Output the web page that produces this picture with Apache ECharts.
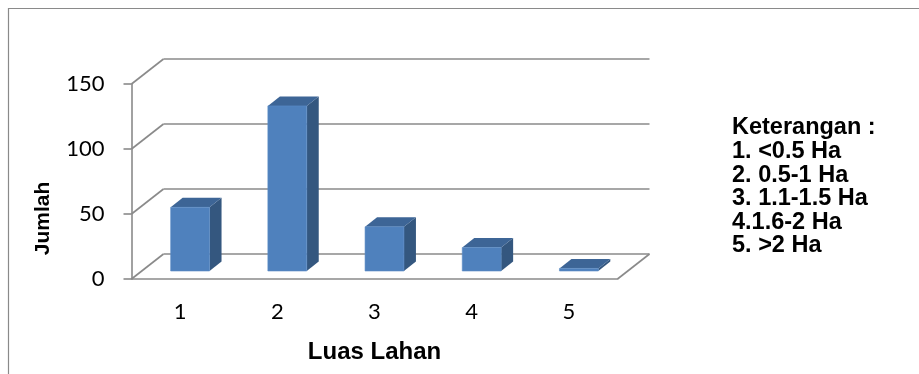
<!DOCTYPE html>
<html>
<head>
<meta charset="utf-8">
<script src="https://cdn.jsdelivr.net/npm/echarts@6/dist/echarts.min.js"></script>
<style>html,body{margin:0;padding:0;background:#fff;}#c{width:919px;height:374px;}</style>
</head>
<body>
<div id="c"></div>
<script>
const categories = ['1', '2', '3', '4', '5'];
const values = [49, 127, 34, 18, 2];
const yTicks = [0, 50, 100, 150];
const legendTitle = 'Keterangan :';
const legendLines = ['1. <0.5 Ha', '2. 0.5-1 Ha', '3. 1.1-1.5 Ha', '4.1.6-2 Ha', '5. >2 Ha'];
const xName = 'Luas Lahan';
const yName = 'Jumlah';

const GRAY = '#8a8a8a';
const FRONT = '#4F81BD', TOP = '#3D6596', SIDE = '#34577F';
const BDX = 32, BDY = -25;      // depth of the whole box
const FDX = 10, FDY = -8;       // bar front face position in depth
const DDX = 12, DDY = -9.5;     // bar depth
const BAR_RATIO = 0.4;

function renderBar(params, api) {
  const i = api.value(0), v = api.value(1);
  const top = api.coord([i, v]), base = api.coord([i, 0]);
  const w = api.size([1, 0])[0] * BAR_RATIO;
  const x0 = top[0] - w / 2 + FDX, x1 = x0 + w;
  const yT = top[1] + FDY, yB = base[1] + FDY;
  return {
    type: 'group',
    children: [
      { type: 'polygon', shape: { points: [[x1, yB], [x1, yT], [x1 + DDX, yT + DDY], [x1 + DDX, yB + DDY]] }, style: { fill: SIDE } },
      { type: 'polygon', shape: { points: [[x0, yT], [x1, yT], [x1 + DDX, yT + DDY], [x0 + DDX, yT + DDY]] }, style: { fill: TOP } },
      { type: 'rect', shape: { x: x0, y: yT, width: w, height: yB - yT }, style: { fill: FRONT, stroke: '#5a8cc6', lineWidth: 0.6 } }
    ]
  };
}

function renderWall(params, api) {
  const v = api.value(1);
  const cs = params.coordSys;
  const y = api.coord([0, v])[1];
  const xl = cs.x, xr = cs.x + cs.width;
  const ls = { stroke: GRAY, lineWidth: 1.6 };
  const ch = [
    { type: 'line', shape: { x1: xl, y1: y, x2: xl + BDX, y2: y + BDY }, style: ls },
    { type: 'line', shape: { x1: xl + BDX, y1: y + BDY, x2: xr + BDX, y2: y + BDY }, style: ls }
  ];
  if (v === 0) {
    ch.push({ type: 'line', shape: { x1: xr, y1: y, x2: xr + BDX, y2: y + BDY }, style: ls });
  }
  return { type: 'group', children: ch };
}

const chart = echarts.init(document.getElementById('c'));
chart.setOption({
  animation: false,
  backgroundColor: '#fff',
  grid: { left: 131.5, top: 84, width: 486, height: 195 },
  xAxis: {
    type: 'category',
    data: categories,
    axisLine: { show: true, lineStyle: { color: GRAY, width: 1.6 } },
    axisTick: { show: false },
    axisLabel: { fontSize: 22, color: '#000', fontFamily: 'Lato', margin: 22 },
    name: xName,
    nameLocation: 'middle',
    nameGap: 61,
    nameTextStyle: { fontSize: 24, fontWeight: 'bold', color: '#000', fontFamily: 'Liberation Sans' },
    splitLine: { show: false }
  },
  yAxis: {
    type: 'value',
    min: 0, max: 150, interval: 50,
    axisLine: { show: true, lineStyle: { color: GRAY, width: 1.6 } },
    axisTick: { show: true, length: 8, lineStyle: { color: GRAY, width: 1.6 } },
    axisLabel: { fontSize: 22, color: '#000', fontFamily: 'Lato', margin: 27 },
    splitLine: { show: false },
    name: yName,
    nameLocation: 'middle',
    nameRotate: 90,
    nameGap: 78,
    nameTextStyle: { fontSize: 21, fontWeight: 'bold', color: '#000', fontFamily: 'Liberation Sans', padding: [0, 74, 0, 0] }
  },
  graphic: [
    { type: 'rect', shape: { x: 8.5, y: 8.5, width: 940, height: 400 }, style: { fill: 'none', stroke: GRAY, lineWidth: 1.2 }, silent: true },
    {
      type: 'text', left: 732, top: 116,
      style: {
        text: [legendTitle].concat(legendLines).join('\n'),
        font: 'bold 23.5px "Liberation Sans"', lineHeight: 23.6, fill: '#000'
      }
    }
  ],
  series: [
    { type: 'custom', renderItem: renderWall, data: yTicks.map(v => [0, v]), clip: false, z: 1, silent: true },
    { type: 'custom', renderItem: renderBar, data: values.map((v, i) => [i, v]), clip: false, z: 2 }
  ]
});
</script>
</body>
</html>
